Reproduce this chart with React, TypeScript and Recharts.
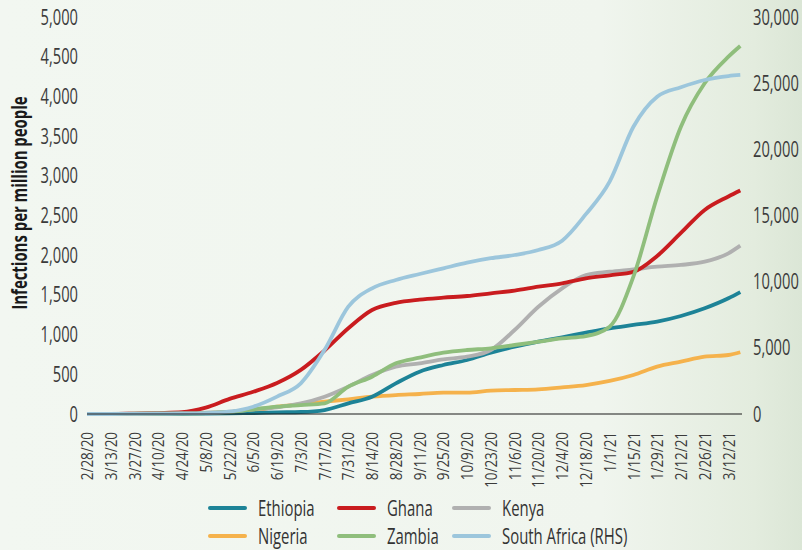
import React from 'react';
import { LineChart, Line, XAxis, YAxis } from 'recharts';

// day index counted from 2/28/20
const DAYS = [0, 14, 28, 42, 56, 70, 84, 98, 112, 126, 140, 154, 168, 182, 196, 210, 224, 238, 252, 266, 280, 294, 308, 322, 336, 350, 364, 378, 385];

const TICK_DAYS = [0, 14, 28, 42, 56, 70, 84, 98, 112, 126, 140, 154, 168, 182, 196, 210, 224, 238, 252, 266, 280, 294, 308, 322, 336, 350, 364, 378];
const TICK_LABELS = [
  '2/28/20', '3/13/20', '3/27/20', '4/10/20', '4/24/20', '5/8/20', '5/22/20', '6/5/20', '6/19/20', '7/3/20',
  '7/17/20', '7/31/20', '8/14/20', '8/28/20', '9/11/20', '9/25/20', '10/9/20', '10/23/20', '11/6/20', '11/20/20',
  '12/4/20', '12/18/20', '1/1/21', '1/15/21', '1/29/21', '2/12/21', '2/26/21', '3/12/21',
];

const LEFT_TICKS = [0, 500, 1000, 1500, 2000, 2500, 3000, 3500, 4000, 4500, 5000];
const RIGHT_TICKS = [0, 5000, 10000, 15000, 20000, 25000, 30000];

// infections per million
const ETHIOPIA = [0, 0, 1, 2, 3, 5, 8, 12, 20, 25, 50, 134, 218, 386, 533, 617, 680, 772, 848, 911, 966, 1024, 1079, 1121, 1163, 1234, 1331, 1457, 1535];
const GHANA = [0, 0, 5, 12, 22, 80, 190, 280, 390, 555, 800, 1080, 1310, 1400, 1440, 1465, 1486, 1520, 1553, 1603, 1646, 1709, 1747, 1790, 1990, 2280, 2570, 2740, 2815];
const KENYA = [0, 2, 5, 8, 12, 18, 30, 59, 84, 134, 218, 344, 491, 596, 638, 688, 722, 806, 1058, 1351, 1583, 1751, 1792, 1822, 1855, 1877, 1918, 2024, 2120];
const NIGERIA = [0, 0, 1, 3, 5, 10, 20, 42, 92, 122, 155, 185, 218, 239, 252, 269, 269, 294, 302, 311, 336, 365, 416, 491, 596, 659, 722, 743, 778];
const ZAMBIA = [0, 0, 3, 6, 8, 12, 25, 59, 92, 113, 134, 344, 470, 638, 710, 772, 806, 827, 869, 911, 953, 982, 1100, 1729, 2737, 3618, 4165, 4500, 4635];
// right-hand scale
const SOUTH_AFRICA = [0, 0, 15, 30, 40, 60, 175, 550, 1310, 2320, 4840, 8110, 9500, 10130, 10580, 11010, 11435, 11770, 12015, 12390, 13100, 15100, 17560, 21710, 23980, 24690, 25240, 25540, 25620];

const SERIES = [
  { key: 'nigeria', name: 'Nigeria', color: '#f5b24c', values: NIGERIA, axis: 'left' },
  { key: 'ethiopia', name: 'Ethiopia', color: '#1d8397', values: ETHIOPIA, axis: 'left' },
  { key: 'kenya', name: 'Kenya', color: '#b0b0b0', values: KENYA, axis: 'left' },
  { key: 'ghana', name: 'Ghana', color: '#c91c1f', values: GHANA, axis: 'left' },
  { key: 'zambia', name: 'Zambia', color: '#8fbe7c', values: ZAMBIA, axis: 'left' },
  { key: 'southAfrica', name: 'South Africa (RHS)', color: '#9cc6dc', values: SOUTH_AFRICA, axis: 'right' },
];

const LEGEND_ORDER = [
  ['ethiopia', 'ghana', 'kenya'],
  ['nigeria', 'zambia', 'southAfrica'],
];

// no condensed font available, so squeeze Open Sans horizontally
const FONT = '"Open Sans", "Noto Sans", sans-serif';
const TEXT = '#3b3b3b';

const data = DAYS.map((day, i) => {
  const row: any = { day };
  SERIES.forEach(s => { row[s.key] = s.values[i]; });
  return row;
});

const fmt = (v: number) => v.toLocaleString('en-US');

function DateTick({ x, y, payload }: any) {
  const label = TICK_LABELS[TICK_DAYS.indexOf(payload.value)];
  return (
    <g transform={`translate(${x},${y}) rotate(-90)`}>
      <text transform="scale(0.79,1)" dy="0.36em" textAnchor="end" fill={TEXT} fontSize={17} fontFamily={FONT}>
        {label}
      </text>
    </g>
  );
}

function NumTick({ x, y, payload, side }: any) {
  return (
    <g transform={`translate(${x},${y})`}>
      <text
        transform="scale(0.7,1)"
        dy="0.36em"
        textAnchor={side === 'left' ? 'end' : 'start'}
        fill={TEXT}
        fontSize={21}
        fontFamily={FONT}
      >
        {fmt(payload.value)}
      </text>
    </g>
  );
}

export default function App() {
  const colWidths = [129, 115, 160];
  return (
    <div
      style={{
        position: 'absolute',
        left: 0,
        top: 0,
        width: 802,
        height: 550,
        overflow: 'hidden',
        background: 'linear-gradient(to right, #f2f7f1 0%, #f0f5ee 75%, #e3ecde 94%, #dbe6d6 100%)',
        fontFamily: FONT,
      }}
    >
      <LineChart
        width={802}
        height={550}
        data={data}
        margin={{ top: 17, right: 0, left: 0, bottom: 0 }}
      >
        <XAxis
          dataKey="day"
          type="number"
          domain={[0, 386]}
          ticks={TICK_DAYS}
          tick={<DateTick />}
          tickLine={false}
          tickSize={6}
          tickMargin={12}
          axisLine={{ stroke: '#1a1a1a', strokeWidth: 1.2 }}
          height={136}
          interval={0}
        />
        <YAxis
          yAxisId="left"
          domain={[0, 5000]}
          ticks={LEFT_TICKS}
          width={87}
          axisLine={false}
          tickLine={false}
          tickMargin={3}
          tick={<NumTick side="left" />}
          interval={0}
        />
        <YAxis
          yAxisId="right"
          orientation="right"
          domain={[0, 30000]}
          ticks={RIGHT_TICKS}
          width={60}
          axisLine={false}
          tickLine={false}
          tickMargin={5}
          tick={<NumTick side="right" />}
          interval={0}
        />
        {SERIES.map(s => (
          <Line
            key={s.key}
            yAxisId={s.axis}
            dataKey={s.key}
            name={s.name}
            type="monotone"
            stroke={s.color}
            strokeWidth={3.8}
            dot={false}
            isAnimationActive={false}
          />
        ))}
      </LineChart>

      <div
        style={{
          position: 'absolute',
          left: 19,
          top: 203,
          transform: 'translate(-50%, -50%) rotate(-90deg) scale(0.71, 1)',
          whiteSpace: 'nowrap',
          fontWeight: 'bold',
          fontSize: 21,
          color: '#1a1a1a',
        }}
      >
        Infections per million people
      </div>

      <div style={{ position: 'absolute', left: 208, top: 494 }}>
        {LEGEND_ORDER.map((row, ri) => (
          <div key={ri} style={{ display: 'flex', height: 28, alignItems: 'center' }}>
            {row.map((k, ci) => {
              const s = SERIES.find(x => x.key === k)!;
              return (
                <div key={k} style={{ display: 'flex', alignItems: 'center', width: colWidths[ci], whiteSpace: 'nowrap' }}>
                  <span style={{ display: 'inline-block', width: 39, height: 4, borderRadius: 2, background: s.color, marginRight: 11, flexShrink: 0 }} />
                  <span style={{ fontSize: 21, color: '#333', display: 'inline-block', transform: 'scale(0.71, 1)', transformOrigin: 'left center' }}>
                    {s.name}
                  </span>
                </div>
              );
            })}
          </div>
        ))}
      </div>
    </div>
  );
}
